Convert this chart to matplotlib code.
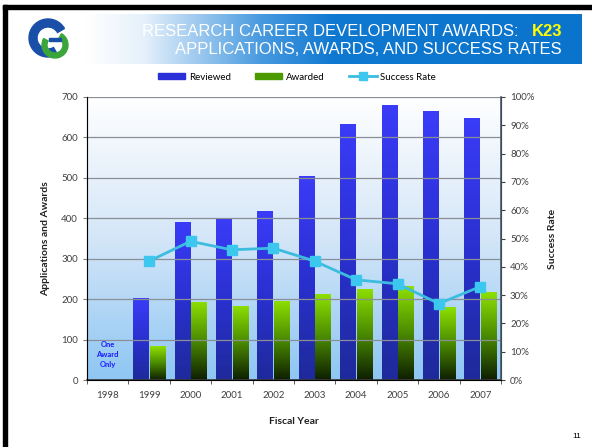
import numpy as np
import matplotlib
matplotlib.use("Agg")
import matplotlib.pyplot as plt
from matplotlib.patches import Wedge, Rectangle
from matplotlib.lines import Line2D
from matplotlib.colors import LinearSegmentedColormap

years = ["1998", "1999", "2000", "2001", "2002", "2003", "2004", "2005", "2006", "2007"]
reviewed = [0, 204, 392, 397, 418, 505, 634, 679, 665, 649]
awarded = [1, 84, 193, 184, 196, 212, 226, 232, 180, 217]
success_years = ["1999", "2000", "2001", "2002", "2003", "2004", "2005", "2006", "2007"]
success = [0.42, 0.49, 0.46, 0.466, 0.42, 0.354, 0.34, 0.27, 0.33]

W, H = 592, 447
fig = plt.figure(figsize=(W / 100, H / 100), dpi=100)

# slide background: border, banner, logo
bg = fig.add_axes([0, 0, 1, 1])
bg.add_patch(Rectangle((3, H - 9), W, 4, color="black"))
bg.add_patch(Rectangle((3, 0), 4, H - 5, color="black"))

banner = LinearSegmentedColormap.from_list(
    "banner", [(0, "#ffffff"), (0.12, "#e4f0fb"), (0.35, "#4a9be0"),
               (0.5, "#0f78d0"), (1, "#0a74cc")])
grad = np.linspace(0, 1, 256).reshape(1, -1)
bg.imshow(grad, cmap=banner, aspect="auto", extent=[85, 582, H - 64, H - 14])
bg.set_xlim(0, W)
bg.set_ylim(0, H)
bg.axis("off")

bg.add_patch(Wedge((48, H - 38), 19, 30, 300, width=8, color="#1a4fa8"))
bg.add_patch(Wedge((55, H - 45), 13, 150, 60, width=5, color="#3aa53a"))
bg.add_patch(Rectangle((49, H - 41), 12, 3, color="#1a4fa8"))

bg.text(519, H - 31, "RESEARCH CAREER DEVELOPMENT AWARDS:", ha="right", va="center",
        color="white", fontsize=12, family="Liberation Sans")
bg.text(562, H - 31, "K23", ha="right", va="center", color="#ffff00",
        fontsize=12, fontweight="bold", family="Liberation Sans")
bg.text(562, H - 50, "APPLICATIONS, AWARDS, AND SUCCESS RATES", ha="right", va="center",
        color="white", fontsize=12, family="Liberation Sans")
bg.text(581, H - 437, "11", ha="right", va="center", fontsize=6,
        family="Liberation Sans")

# chart
font = "Lato"
ax = fig.add_axes([87 / W, 1 - 380 / H, (501 - 87) / W, (380 - 97) / H])
x = np.arange(len(years))
w = 0.37

plot_bg = LinearSegmentedColormap.from_list("plotbg", ["#ffffff", "#d4e6f8", "#8ec6f3"])
ax.imshow(np.linspace(0, 1, 256).reshape(-1, 1), cmap=plot_bg, aspect="auto",
          extent=[-0.5, len(years) - 0.5, 0, 700], origin="upper", zorder=0)

blue_cm = LinearSegmentedColormap.from_list("bl", ["#3a3cf8", "#2a30d0", "#1e2a9a"])
green_cm = LinearSegmentedColormap.from_list("gr", ["#8ee000", "#4a8a00", "#0e1e00"])

rev_bars = ax.bar(x - 0.2, reviewed, w, color="none", zorder=2)
awd_bars = ax.bar(x + 0.2, awarded, w, color="none", zorder=2)
for bars, cm in ((rev_bars, blue_cm), (awd_bars, green_cm)):
    for b in bars:
        if b.get_height() < 5:
            continue
        x0, y0 = b.get_x(), b.get_y()
        im = ax.imshow(np.linspace(0, 1, 256).reshape(-1, 1), cmap=cm, aspect="auto",
                       extent=[x0, x0 + b.get_width(), y0, y0 + b.get_height()],
                       origin="upper", zorder=2)
        im.set_clip_path(b)

ax.set_xlim(-0.5, len(years) - 0.5)
ax.set_ylim(0, 700)
ax.set_yticks(range(0, 701, 100))
ax.yaxis.grid(True, color="#8a8f96", linewidth=0.9)
ax.set_axisbelow(False)
for line in ax.get_ygridlines():
    line.set_zorder(1)
ax.set_xticks(x)
ax.set_xticklabels(years)
ax.set_xticks(np.arange(-0.5, len(years)), minor=True)
ax.tick_params(axis="x", which="major", length=0, pad=8)
ax.tick_params(axis="x", which="minor", length=3, direction="out", color="#404040")
ax.tick_params(axis="y", length=3, color="#808080")
ax.tick_params(labelsize=7, labelcolor="#404040")
for lbl in ax.get_xticklabels() + ax.get_yticklabels():
    lbl.set_family(font)
ax.spines["top"].set_visible(False)
ax.spines["left"].set_color("#8a8a8a")
ax.spines["bottom"].set_color("#303030")
ax.spines["bottom"].set_linewidth(1.2)
ax.set_ylabel("Applications and Awards", fontsize=7.5, fontweight="bold",
              family=font, labelpad=8, color="#202020")
ax.set_xlabel("Fiscal Year", fontsize=7.5, fontweight="bold", family=font,
              labelpad=12, color="#202020")

ax.text(0, 62, "One\nAward\nOnly", ha="center", va="center", color="#1a1aff",
        fontsize=5.5, fontweight="bold", family=font, linespacing=1.5)

ax2 = ax.twinx()
sx = [years.index(y) for y in success_years]
ax2.plot(sx, success, color="#3cbde0", linewidth=2, marker="s", markersize=7,
         markerfacecolor="#3cc8ee", markeredgecolor="#3cc8ee", zorder=5)
ax2.set_ylim(0, 1)
ax2.set_yticks(np.arange(0, 1.01, 0.1))
ax2.set_yticklabels([f"{int(round(v * 100))}%" for v in np.arange(0, 1.01, 0.1)])
ax2.tick_params(axis="y", length=3, labelsize=7, labelcolor="#404040", color="#404040")
for lbl in ax2.get_yticklabels():
    lbl.set_family(font)
ax2.spines["top"].set_visible(False)
ax2.spines["right"].set_color("#4a5a6a")
ax2.spines["right"].set_linewidth(1.2)
ax2.set_ylabel("Success Rate", fontsize=7.5, fontweight="bold", family=font,
               labelpad=10, color="#202020")

handles = [
    Rectangle((0, 0), 1, 1, color="#2a30d8"),
    Rectangle((0, 0), 1, 1, color="#4a9a00"),
    Line2D([], [], color="#3cbde0", linewidth=2, marker="s", markersize=6,
           markerfacecolor="#3cc8ee", markeredgecolor="#3cc8ee"),
]
fig.legend(handles, ["Reviewed", "Awarded", "Success Rate"], loc="center",
           bbox_to_anchor=(297 / W, 1 - 77 / H), ncol=3, frameon=False,
           prop={"family": font, "size": 7}, handlelength=2.8, handleheight=0.5,
           columnspacing=2.5, handletextpad=0.4)

fig.savefig("out.png", dpi=100)
